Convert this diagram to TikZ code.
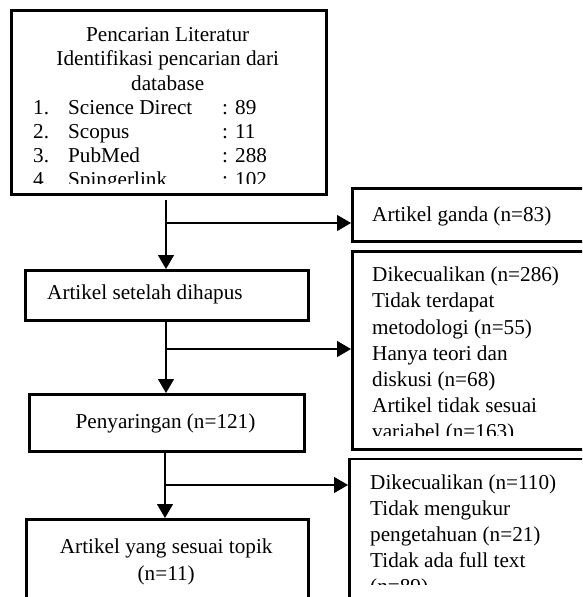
\documentclass[tikz,border=0pt]{standalone}
\usepackage{fontspec}
\setmainfont{Liberation Serif}
\usetikzlibrary{arrows.meta}
\tikzset{
  box/.style={draw, line width=2.8pt, inner sep=0pt, anchor=north west},
  conn/.style={line width=1.1pt, -{Triangle[length=14pt,width=16pt]}},
  txt/.style={inner sep=0pt, anchor=base west, font=\fontsize{21.2}{24.25}\selectfont},
}
\newcommand{\lst}[3]{\hspace*{23pt}\makebox[35pt][l]{#1}\makebox[154pt][l]{#2}#3}
\begin{document}
\begin{tikzpicture}[x=1pt,y=-1pt]
\clip (0,0) rectangle (582,597);
% boxes
\node[box, minimum width=315pt, minimum height=184pt] (src) at (10,9) {};
\node[box, minimum width=260pt, minimum height=53pt] (dup) at (351,187) {};
\node[box, minimum width=283pt, minimum height=50pt] (after) at (24,269) {};
\node[box, minimum width=260pt, minimum height=198pt] (excl1) at (351,250) {};
\node[box, minimum width=275pt, minimum height=57pt] (screen) at (28,393) {};
\node[box, minimum width=260pt, minimum height=180pt] (excl2) at (348,457.5) {};
\node[box, minimum width=282pt, minimum height=120pt] (final) at (25,518) {};
% texts
\begin{scope}
\clip (12,11) rectangle (323,183.3);
\node[txt] (tsrc) at (10,41.5) {\parbox[t]{315pt}{\centering Pencarian Literatur\\Identifikasi pencarian dari\\database\par\raggedright
\lst{1.}{Science Direct}{: 89}\\
\lst{2.}{Scopus}{: 11}\\
\lst{3.}{PubMed}{: 288}\\
\lst{4.}{Spingerlink}{: 102}}};
\end{scope}
\node[txt] (tdup) at (372,221) {Artikel ganda (n=83)};
\node[txt] (tafter) at (47,299) {Artikel setelah dihapus};
\begin{scope}
\clip (353,252) rectangle (582,435.5);
\node[txt, font=\fontsize{21.2}{26.2}\selectfont] (texcl1) at (372,281.7) {\parbox[t]{220pt}{\raggedright
Dikecualikan (n=286)\\Tidak terdapat\\metodologi (n=55)\\Hanya teori dan\\diskusi (n=68)\\Artikel tidak sesuai\\variabel (n=163)}};
\end{scope}
\node[txt, anchor=base] (tscreen) at (165.5,428) {Penyaringan (n=121)};
\begin{scope}
\clip (350,459) rectangle (582,584);
\node[txt, font=\fontsize{21.2}{26}\selectfont] (texcl2) at (370,489) {\parbox[t]{220pt}{\raggedright
Dikecualikan (n=110)\\Tidak mengukur\\pengetahuan (n=21)\\Tidak ada full text\\(n=89)}};
\end{scope}
\node[txt, font=\fontsize{21.2}{27}\selectfont] (tfinal) at (25,553) {\parbox[t]{282pt}{\centering Artikel yang sesuai topik\\(n=11)}};
% connectors
\coordinate (j1) at (166,223);
\coordinate (j2) at (166,349);
\coordinate (j3) at (165,485);
\draw[conn, shorten <=4pt] (src.south -| j1) -- (after.north -| j1);
\draw[conn] (j1) -- (dup.west |- j1);
\draw[conn] (after.south -| j2) -- (screen.north -| j2);
\draw[conn] (j2) -- (excl1.west |- j2);
\draw[conn] (screen.south -| j3) -- (final.north -| j3);
\draw[conn] (j3) -- (excl2.west |- j3);
\end{tikzpicture}
\end{document}
